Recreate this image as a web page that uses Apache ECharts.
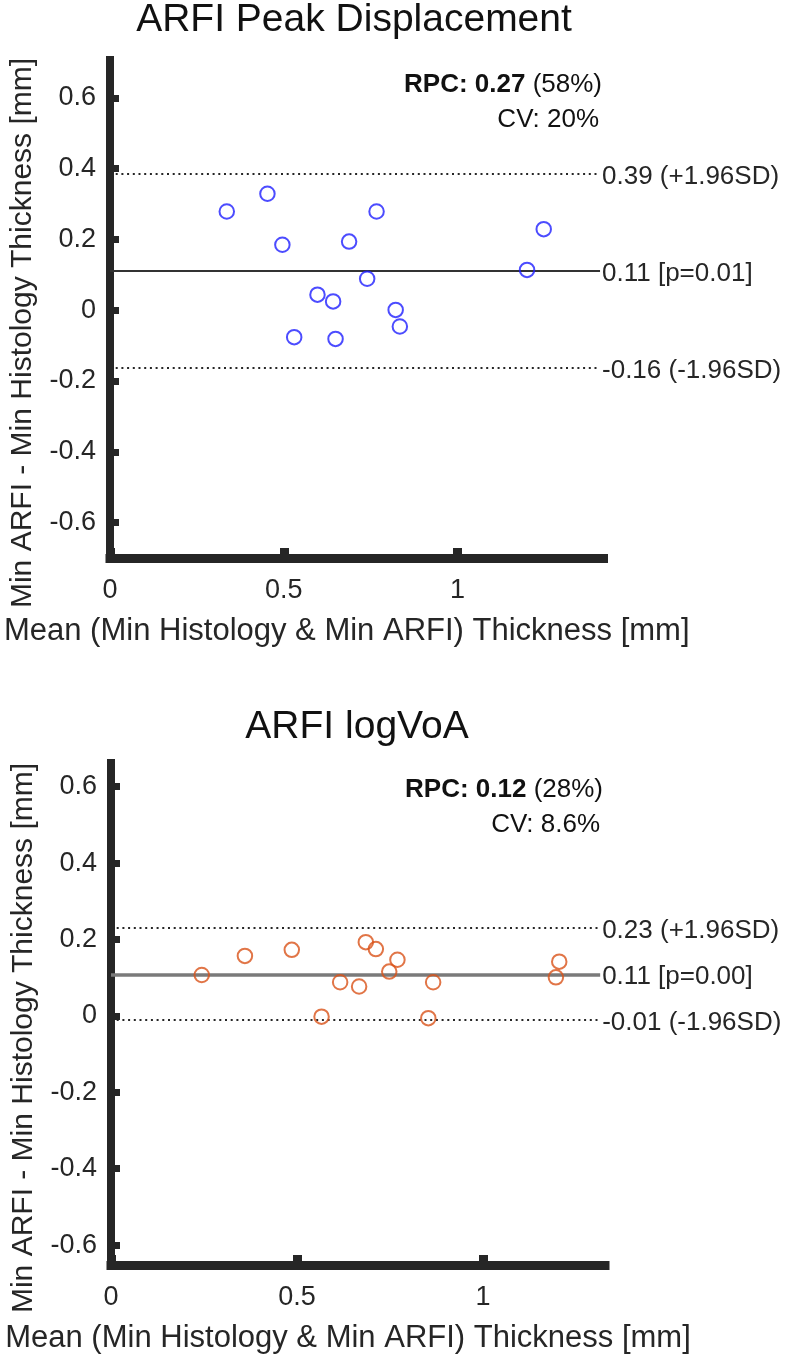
<!DOCTYPE html>
<html><head><meta charset="utf-8">
<script src="https://cdn.jsdelivr.net/npm/echarts@6/dist/echarts.min.js"></script>
<style>html,body{margin:0;padding:0;background:#fff;}#c{width:797px;height:1361px;}</style>
</head><body><div id="c"></div>
<script>
// ---------- Panel 1: ARFI Peak Displacement ----------
const p1Title = 'ARFI Peak Displacement';
const p1X = [0.336, 0.453, 0.496, 0.767, 0.688, 1.248, 1.200, 0.740, 0.597, 0.642, 0.822, 0.834, 0.530, 0.649];
const p1Y = [0.279, 0.329, 0.185, 0.279, 0.194, 0.229, 0.114, 0.089, 0.044, 0.025, 0.001, -0.046, -0.076, -0.081];
const p1Lines = [0.385, 0.112, -0.162];           // +1.96SD, mean, -1.96SD
const p1LineLabels = ['0.39 (+1.96SD)', '0.11 [p=0.01]', '-0.16 (-1.96SD)'];
const p1Rpc = 'RPC: 0.27', p1RpcPct = ' (58%)', p1Cv = 'CV: 20%';
const p1XRange = [0, 1.42], p1YRange = [-0.7, 0.707], p1LineEnd = 1.41;

// ---------- Panel 2: ARFI logVoA ----------
const p2Title = 'ARFI logVoA';
const p2X = [0.244, 0.360, 0.486, 0.685, 0.712, 0.770, 0.748, 0.616, 0.667, 0.866, 1.205, 1.196, 0.566, 0.853];
const p2Y = [0.107, 0.157, 0.173, 0.193, 0.175, 0.147, 0.116, 0.088, 0.077, 0.088, 0.142, 0.101, -0.002, -0.006];
const p2Lines = [0.230, 0.109, -0.011];
const p2LineLabels = ['0.23 (+1.96SD)', '0.11 [p=0.00]', '-0.01 (-1.96SD)'];
const p2Rpc = 'RPC: 0.12', p2RpcPct = ' (28%)', p2Cv = 'CV: 8.6%';
const p2XRange = [0, 1.328], p2YRange = [-0.652, 0.662], p2LineEnd = 1.315;

// ---------- shared ----------
const xTicks = [0, 0.5, 1];
const yTicks = [-0.6, -0.4, -0.2, 0, 0.2, 0.4, 0.6];
const xName = 'Mean (Min Histology & Min ARFI) Thickness [mm]';
const yName = 'Min ARFI - Min Histology Thickness [mm]';

const FONT = '"Liberation Sans", Arial, Helvetica, sans-serif';
const AX = '#262626';
const grids = [
  {left: 109.5, top: 60, width: 494, height: 498},
  {left: 111, top: 763, width: 494, height: 502}
];

function xAxisCfg(gi, range) {
  return {
    gridIndex: gi, type: 'value', min: range[0], max: range[1],
    name: xName, nameLocation: 'middle', nameGap: 58,
    nameTextStyle: {fontSize: 31, color: AX, fontFamily: FONT, padding: [0, 20, 0, 0]},
    axisLine: {show: true, onZero: false, lineStyle: {color: AX, width: 9, cap: 'square'}},
    axisTick: {show: true, inside: true, length: 10, customValues: xTicks, lineStyle: {color: AX, width: 9}},
    axisLabel: {customValues: xTicks, fontSize: 27, margin: 19, color: AX, fontFamily: FONT,
      formatter: v => String(v)},
    splitLine: {show: false}
  };
}
function yAxisCfg(gi, range) {
  return {
    gridIndex: gi, type: 'value', min: range[0], max: range[1],
    name: yName, nameLocation: 'middle', nameGap: 72,
    nameTextStyle: {fontSize: 30, color: AX, fontFamily: FONT, padding: [0, 48, 0, 0]},
    axisLine: {show: true, onZero: false, lineStyle: {color: AX, width: 8, cap: 'square'}},
    axisTick: {show: true, inside: true, length: 9, customValues: yTicks, lineStyle: {color: AX, width: 7}},
    axisLabel: {customValues: yTicks, fontSize: 27, margin: 14, color: AX, fontFamily: FONT,
      formatter: v => String(Math.round(v * 10) / 10)},
    splitLine: {show: false}
  };
}
function refLines(vals, labels, end, meanColor, meanWidth) {
  return vals.map((v, i) => {
    const isMean = i === 1;
    return [
      {coord: [0, v],
       lineStyle: isMean ? {color: meanColor, width: meanWidth, type: 'solid'}
                         : {color: AX, width: 2, type: [2, 3.7]},
       label: {show: true, position: 'end', distance: 2, formatter: labels[i], offset: [0, 3],
               fontSize: 26, color: AX, fontFamily: FONT}},
      {coord: [end, v]}
    ];
  });
}
function scatterSeries(gi, xs, ys, color, lines, labels, end, meanColor, meanWidth) {
  return {
    type: 'scatter', xAxisIndex: gi, yAxisIndex: gi, silent: true,
    data: xs.map((x, i) => [x, ys[i]]),
    symbol: 'circle', symbolSize: 14.5, z: 5,
    itemStyle: {color: 'rgba(0,0,0,0)', borderColor: color, borderWidth: 2},
    markLine: {symbol: 'none', silent: true, animation: false, z: 3,
      data: refLines(lines, labels, end, meanColor, meanWidth)}
  };
}
function annot(x, y, rpc, pct, cv) {
  return [
    {type: 'text', x: x, y: y, z: 10, style: {
      text: '{b|' + rpc + '}' + pct, align: 'right', verticalAlign: 'middle',
      fontSize: 26, fontFamily: FONT, fill: '#111',
      rich: {b: {fontSize: 26, fontFamily: FONT, fontWeight: 'bold', fill: '#111'}}}},
    {type: 'text', x: x - 3, y: y + 35, z: 10, style: {
      text: cv, align: 'right', verticalAlign: 'middle', fontSize: 26, fontFamily: FONT, fill: '#111'}}
  ];
}
function titleG(text, x, y) {
  return {type: 'text', x: x, y: y, style: {text: text, align: 'center', verticalAlign: 'middle',
    fontSize: 39, fontFamily: FONT, fill: '#111'}};
}

const chart = echarts.init(document.getElementById('c'), null, {renderer: 'canvas'});
chart.setOption({
  animation: false,
  backgroundColor: '#fff',
  grid: grids,
  xAxis: [xAxisCfg(0, p1XRange), xAxisCfg(1, p2XRange)],
  yAxis: [yAxisCfg(0, p1YRange), yAxisCfg(1, p2YRange)],
  series: [
    scatterSeries(0, p1X, p1Y, '#1f1fff', p1Lines, p1LineLabels, p1LineEnd, '#333333', 2.2),
    scatterSeries(1, p2X, p2Y, '#d95319', p2Lines, p2LineLabels, p2LineEnd, '#7a7a7a', 3.5)
  ],
  graphic: [
    titleG(p1Title, 354, 20),
    titleG(p2Title, 357, 727),
    ...annot(602, 85, p1Rpc, p1RpcPct, p1Cv),
    ...annot(603, 790, p2Rpc, p2RpcPct, p2Cv)
  ]
});
</script></body></html>
